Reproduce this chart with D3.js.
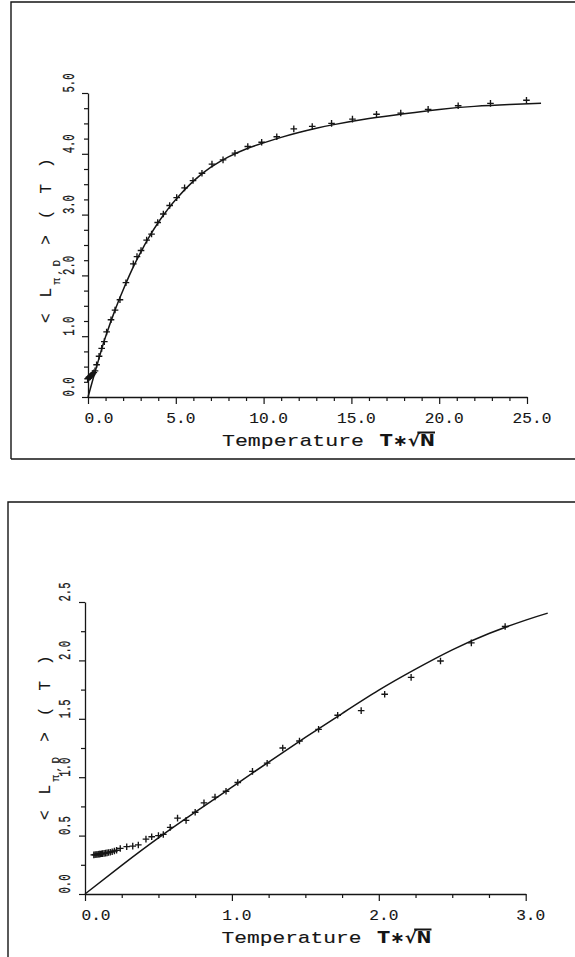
<!DOCTYPE html>
<html>
<head>
<meta charset="utf-8">
<script src="https://cdn.jsdelivr.net/npm/d3@7"></script>
<style>
  html, body { margin: 0; padding: 0; background: #fff; }
  svg { display: block; }
</style>
</head>
<body>
<svg id="fig" width="575" height="957"></svg>
<script>
// Mean tour length <L_{π,D}>(T) against the scaled temperature T*sqrt(N).
// Crosses: simulation averages. Solid line: analytic estimate.

// ---- Upper panel: full temperature range ----
const wideSimT = [-0.02, 0.02, 0.05, 0.08, 0.11, 0.14, 0.18, 0.22, 0.27, 0.33, 0.40,
  0.49, 0.63, 0.78, 0.93, 1.06, 1.31, 1.54, 1.82, 2.16, 2.58, 2.79, 3.02, 3.34, 3.62,
  3.97, 4.29, 4.65, 5.05, 5.50, 5.98, 6.49, 7.06, 7.69, 8.37, 9.10, 9.89, 10.75, 11.72,
  12.77, 13.87, 15.06, 16.43, 17.81, 19.37, 21.08, 22.92, 24.97];
const wideSimL = [0.30, 0.31, 0.32, 0.33, 0.33, 0.34, 0.35, 0.36, 0.38, 0.40, 0.43,
  0.53, 0.67, 0.80, 0.91, 1.07, 1.27, 1.43, 1.60, 1.88, 2.19, 2.31, 2.41, 2.58, 2.68,
  2.87, 3.01, 3.15, 3.28, 3.44, 3.56, 3.68, 3.83, 3.90, 4.01, 4.12, 4.19, 4.28, 4.41,
  4.45, 4.50, 4.57, 4.65, 4.67, 4.73, 4.79, 4.83, 4.88];
const wideFitT = [0, 0.25, 0.5, 0.75, 1, 1.5, 2, 2.5, 3, 3.5, 4, 4.5, 5, 6, 7, 8, 9, 10,
  11, 12, 13, 14, 16, 18, 20, 22, 24, 25.8];
const wideFitL = [0, 0.26, 0.51, 0.76, 0.99, 1.40, 1.76, 2.09, 2.38, 2.64, 2.87, 3.07,
  3.25, 3.55, 3.78, 3.95, 4.08, 4.18, 4.27, 4.35, 4.42, 4.48, 4.58, 4.66, 4.73, 4.78,
  4.81, 4.83];
const wideTTicks = [0, 5, 10, 15, 20, 25];
const wideLTicks = [0, 1, 2, 3, 4, 5];

// ---- Lower panel: low temperature region ----
const lowSimT = [0.060, 0.068, 0.075, 0.082, 0.090, 0.097, 0.105, 0.113, 0.120, 0.130,
  0.140, 0.150, 0.160, 0.172, 0.185, 0.200, 0.215, 0.240, 0.284, 0.325, 0.363,
  0.415, 0.454, 0.500, 0.533, 0.580, 0.630, 0.688, 0.750, 0.810, 0.885, 0.960,
  1.040, 1.140, 1.240, 1.346, 1.460, 1.590, 1.720, 1.880, 2.040, 2.220, 2.420,
  2.630, 2.860];
const lowSimL = [0.335, 0.336, 0.338, 0.338, 0.340, 0.341, 0.343, 0.344, 0.346, 0.348,
  0.350, 0.352, 0.355, 0.358, 0.362, 0.368, 0.375, 0.390, 0.405, 0.410, 0.420,
  0.470, 0.490, 0.500, 0.510, 0.570, 0.650, 0.630, 0.700, 0.780, 0.830, 0.880,
  0.955, 1.050, 1.120, 1.250, 1.310, 1.410, 1.530, 1.570, 1.710, 1.855, 1.995,
  2.150, 2.290];
const lowFitT = [0, 0.25, 0.5, 0.75, 1.0, 1.25, 1.5, 1.75, 2.0, 2.25, 2.5, 2.75, 3.0, 3.15];
const lowFitL = [0, 0.245, 0.48, 0.70, 0.915, 1.13, 1.34, 1.545, 1.745, 1.925, 2.09, 2.23,
  2.345, 2.405];
const lowTTicks = [0, 1, 2, 3];
const lowLTicks = [0, 0.5, 1.0, 1.5, 2.0, 2.5];

const INK = "#151515";
const MONO = "'Liberation Mono', 'DejaVu Sans Mono', monospace";
const fmt = d3.format(".1f");
const cross = "M-3.3,0H3.3M0,-3.3V3.3";

const svg = d3.select("#fig");
svg.append("rect").attr("width", 575).attr("height", 957).attr("fill", "#fff");

function styleAxis(sel) {
  sel.selectAll(".tick line").attr("stroke", INK).attr("stroke-width", 1.2);
  sel.select(".domain").attr("stroke", INK).attr("stroke-width", 1.3);
}

// pen-plotter look: a thin outline evens out the glyph strokes
function pen(sel, w = 0.12) {
  sel.attr("fill", INK).attr("stroke", INK).attr("stroke-width", w);
}

function drawPanel(p) {
  const g = svg.append("g");
  const x = d3.scaleLinear().domain(p.xDomain).range(p.xRange);
  const y = d3.scaleLinear().domain(p.yDomain).range(p.yRange);
  const b = p.box;

  // surrounding frame
  g.append("path")
    .attr("d", `M${b.left},${b.bottom}V${b.top}H${b.right}M${b.left},${b.bottom}H${b.right}`)
    .attr("fill", "none").attr("stroke", INK).attr("stroke-width", 1.4);

  // x axis: minor then major ticks
  g.append("g").attr("transform", `translate(0,${y(0)})`)
    .call(d3.axisBottom(x).tickValues(p.xMinor).tickSize(4).tickSizeOuter(0).tickFormat(""))
    .call(s => s.select(".domain").remove())
    .call(styleAxis);
  g.append("g").attr("transform", `translate(0,${y(0)})`)
    .call(d3.axisBottom(x).tickValues(p.xTicks).tickSize(7).tickSizeOuter(0).tickFormat(""))
    .call(styleAxis);

  // y axis: minor then major ticks
  g.append("g").attr("transform", `translate(${x(0)},0)`)
    .call(d3.axisLeft(y).tickValues(p.yMinor).tickSize(4).tickSizeOuter(0).tickFormat(""))
    .call(s => s.select(".domain").remove())
    .call(styleAxis);
  g.append("g").attr("transform", `translate(${x(0)},0)`)
    .call(d3.axisLeft(y).tickValues(p.yTicks).tickSize(6).tickSizeOuter(0).tickFormat(""))
    .call(styleAxis);

  // x tick labels
  g.selectAll(null).data(p.xTicks).join("text")
    .attr("x", (d, i) => x(d) + (i === 0 ? 11 : 5))
    .attr("y", y(0) + 26)
    .attr("text-anchor", "middle")
    .attr("font-family", MONO).attr("font-size", 15)
    .attr("textLength", d => fmt(d).length * 9.7)
    .attr("lengthAdjust", "spacingAndGlyphs")
    .call(pen)
    .text(fmt);

  // y tick labels, turned to read upward
  g.selectAll(null).data(p.yTicks).join("text")
    .attr("transform", d => `translate(${p.yLabelX},${y(d) - 10}) rotate(-90)`)
    .attr("text-anchor", "middle")
    .attr("font-family", MONO).attr("font-size", 16)
    .attr("textLength", 19)
    .attr("lengthAdjust", "spacingAndGlyphs")
    .call(pen, 0.3)
    .text(fmt);

  // analytic curve
  const line = d3.line().x(d => x(d[0])).y(d => y(d[1])).curve(d3.curveNatural);
  g.append("path")
    .datum(d3.zip(p.fitT, p.fitL))
    .attr("d", line)
    .attr("fill", "none").attr("stroke", INK).attr("stroke-width", 1.5);

  // simulation points
  g.selectAll(null).data(d3.zip(p.simT, p.simL)).join("path")
    .attr("transform", d => `translate(${x(d[0])},${y(d[1])})`)
    .attr("d", cross)
    .attr("fill", "none").attr("stroke", INK).attr("stroke-width", 1.35);

  // y axis title
  const yt = g.append("text")
    .attr("transform", `translate(${p.yTitle[0]},${p.yTitle[1]}) rotate(-90)`)
    .attr("font-family", MONO).attr("font-size", 16)
    .attr("letter-spacing", 3.2)
    .call(pen);
  yt.append("tspan").text("< L");
  yt.append("tspan").attr("font-size", 11).attr("dy", 9).attr("letter-spacing", 2.4).text("π,D");
  yt.append("tspan").attr("dy", -9).text(" > ( T )");

  // x axis title
  const [tx, tb, tlen, bx, blen] = p.xTitle;
  g.append("text")
    .attr("x", tx).attr("y", tb)
    .attr("font-family", MONO).attr("font-size", 17)
    .attr("textLength", tlen).attr("lengthAdjust", "spacingAndGlyphs")
    .call(pen)
    .text("Temperature");
  const bold = g.append("text")
    .attr("x", bx).attr("y", tb)
    .attr("font-family", "'DejaVu Sans', sans-serif").attr("font-weight", "bold")
    .attr("font-size", 16).attr("fill", INK)
    .attr("textLength", blen).attr("lengthAdjust", "spacingAndGlyphs")
    .text("T∗√N");
  const node = bold.node();
  const rad = node.getExtentOfChar(2);
  const nn = node.getExtentOfChar(3);
  // vinculum of the square root over N
  g.append("line")
    .attr("x1", rad.x + rad.width * 0.8).attr("x2", nn.x + nn.width)
    .attr("y1", tb - 13.5).attr("y2", tb - 13.5)
    .attr("stroke", INK).attr("stroke-width", 2);
}

const quarter = n => d3.range(0, n + 1).map(i => i * 0.25);

drawPanel({
  box: { left: 11, top: 2, right: 580, bottom: 459 },
  xDomain: [0, 25], xRange: [88, 527],
  yDomain: [0, 5], yRange: [397, 93],
  xTicks: wideTTicks, xMinor: d3.range(0, 26).filter(v => v % 5 !== 0),
  yTicks: wideLTicks, yMinor: quarter(20).filter(v => v % 1 !== 0),
  yLabelX: 74,
  simT: wideSimT, simL: wideSimL, fitT: wideFitT, fitL: wideFitL,
  yTitle: [51, 323],
  xTitle: [222, 446, 142, 380, 55]
});

drawPanel({
  box: { left: 8, top: 502, right: 580, bottom: 960 },
  xDomain: [0, 3], xRange: [85, 525.7],
  yDomain: [0, 2.5], yRange: [894, 602],
  xTicks: lowTTicks, xMinor: quarter(12).filter(v => v % 1 !== 0),
  yTicks: lowLTicks, yMinor: quarter(10).filter(v => Math.round(v * 4) % 2 === 1),
  yLabelX: 70,
  simT: lowSimT, simL: lowSimL, fitT: lowFitT, fitL: lowFitL,
  yTitle: [50, 820],
  xTitle: [221.5, 943, 140, 377.5, 54]
});
</script>
</body>
</html>
